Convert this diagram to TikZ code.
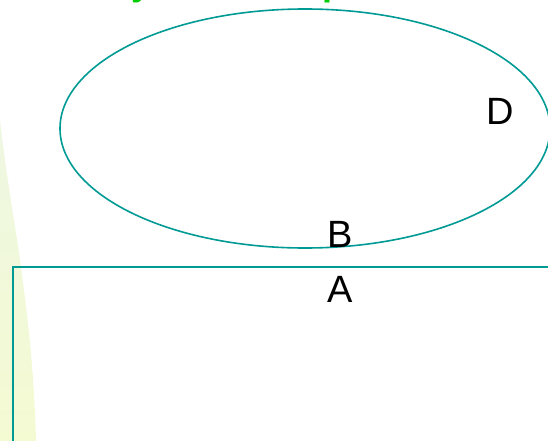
\documentclass[tikz,border=0pt]{standalone}
\usepackage{fontspec}
\setmainfont{Liberation Sans}
\usetikzlibrary{shapes.geometric}
\definecolor{tealline}{HTML}{009A94}
\definecolor{titlegreen}{HTML}{00CC00}
\definecolor{bandtop}{HTML}{EEF7E2}
\definecolor{bandbot}{HTML}{F4FAD2}
\begin{document}
\begin{tikzpicture}[x=1pt,y=-1pt,
  outline/.style={draw=tealline,line width=1.6pt},
  lbl/.style={font=\fontsize{38}{40}\selectfont,text=black,inner sep=0pt},
  ttl/.style={font=\bfseries\fontsize{36}{38}\selectfont,text=titlegreen,inner sep=0pt,anchor=base}]
\useasboundingbox (0,0) rectangle (548,441);
\clip (0,0) rectangle (548,441);
% left pale band
\shade[top color=bandtop,bottom color=bandbot]
  (0,120) .. controls (8,190) and (18,240) .. (22,275)
  .. controls (28,320) and (34,370) .. (36,441) -- (0,441) -- cycle;
% cropped title fragments
\node[ttl] (ty) at (142,-4.5) {y};
\node[ttl] (tp) at (333,-4.5) {p};
% ellipse
\node[outline,ellipse,minimum width=490pt,minimum height=239pt,inner sep=0pt] (ell) at (305,128.5) {};
% rectangle
\node[outline,rectangle,anchor=north west,minimum width=560pt,minimum height=200pt,inner sep=0pt] (rect) at (12,266) {};
% labels
\node[lbl] (B) at (340,234) {B};
\node[lbl] (A) at (340,289) {A};
\node[lbl] (D) at (500,111) {D};
\end{tikzpicture}
\end{document}
